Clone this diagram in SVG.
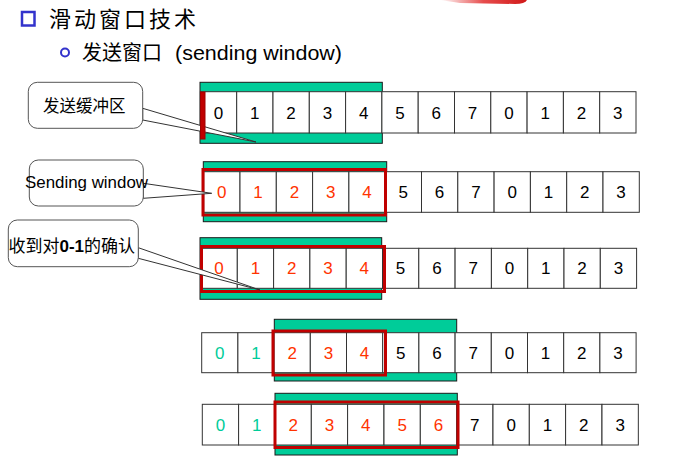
<svg xmlns="http://www.w3.org/2000/svg" width="688" height="474" viewBox="0 0 688 474">
<defs>
<style>
.cell{fill:#fff;stroke:#333;stroke-width:1}
.grn{fill:#00CC99;stroke:#1a1a1a;stroke-width:1}
.win{fill:none;stroke:#C00000;stroke-width:3}
.d{font-family:"Liberation Sans","DejaVu Sans",sans-serif;font-size:17px;text-anchor:middle}
.k{fill:#000}.r{fill:#FF3300}.t{fill:#00CC99}
.call{fill:#fff;stroke:#555;stroke-width:1}
.ptr{fill:#fff;stroke:#333;stroke-width:1}
.cj{font-family:"Noto Sans CJK SC",sans-serif;fill:#000}
</style>
<linearGradient id="rg" x1="0" y1="0" x2="1" y2="0">
<stop offset="0" stop-color="#E02020" stop-opacity="0"/>
<stop offset="0.5" stop-color="#E02020" stop-opacity="0.8"/>
<stop offset="1" stop-color="#D01818"/>
</linearGradient>
</defs>
<rect width="688" height="474" fill="#fff"/>
<path d="M440,0 L527,0 Q525,4 515,4 L460,3 Z" fill="url(#rg)"/>
<g id="title">
<rect x="22" y="12" width="12.5" height="13.5" fill="#fff" stroke="#3333CC" stroke-width="2.5"/>
<text x="49" y="27" class="cj" font-size="22" letter-spacing="3">滑动窗口技术</text>
<circle cx="65" cy="52.5" r="4" fill="#fff" stroke="#3333CC" stroke-width="2"/>
<text x="82" y="60" class="cj" font-size="20">发送窗口</text>
<text x="175" y="60" font-family="Liberation Sans,sans-serif" font-size="21" textLength="167" lengthAdjust="spacingAndGlyphs" fill="#000">(sending window)</text>
</g>
<g id="row1">
<rect class="grn" x="200" y="82.3" width="182.3" height="61"/>
<g class="cells">
<rect class="cell" x="200.4" y="91.7" width="36.3" height="41.3"/>
<rect class="cell" x="236.7" y="91.7" width="36.3" height="41.3"/>
<rect class="cell" x="273" y="91.7" width="36.3" height="41.3"/>
<rect class="cell" x="309.3" y="91.7" width="36.3" height="41.3"/>
<rect class="cell" x="345.6" y="91.7" width="36.3" height="41.3"/>
<rect class="cell" x="381.9" y="91.7" width="36.3" height="41.3"/>
<rect class="cell" x="418.2" y="91.7" width="36.3" height="41.3"/>
<rect class="cell" x="454.5" y="91.7" width="36.3" height="41.3"/>
<rect class="cell" x="490.8" y="91.7" width="36.3" height="41.3"/>
<rect class="cell" x="527.1" y="91.7" width="36.3" height="41.3"/>
<rect class="cell" x="563.4" y="91.7" width="36.3" height="41.3"/>
<rect class="cell" x="599.7" y="91.7" width="36.3" height="41.3"/>
</g>
<g class="d k">
<text x="218.5" y="118.5">0</text><text x="254.8" y="118.5">1</text><text x="291.1" y="118.5">2</text><text x="327.4" y="118.5">3</text><text x="363.7" y="118.5">4</text><text x="400" y="118.5">5</text><text x="436.3" y="118.5">6</text><text x="472.6" y="118.5">7</text><text x="508.9" y="118.5">0</text><text x="545.2" y="118.5">1</text><text x="581.5" y="118.5">2</text><text x="617.8" y="118.5">3</text>
</g>
</g>
<g id="row2">
<rect class="grn" x="203.3" y="161.7" width="183.4" height="60"/>
<g>
<rect class="cell" x="203.7" y="171.7" width="36.3" height="40.6"/>
<rect class="cell" x="240" y="171.7" width="36.3" height="40.6"/>
<rect class="cell" x="276.3" y="171.7" width="36.3" height="40.6"/>
<rect class="cell" x="312.6" y="171.7" width="36.3" height="40.6"/>
<rect class="cell" x="348.9" y="171.7" width="36.3" height="40.6"/>
<rect class="cell" x="385.2" y="171.7" width="36.3" height="40.6"/>
<rect class="cell" x="421.5" y="171.7" width="36.3" height="40.6"/>
<rect class="cell" x="457.8" y="171.7" width="36.3" height="40.6"/>
<rect class="cell" x="494.1" y="171.7" width="36.3" height="40.6"/>
<rect class="cell" x="530.4" y="171.7" width="36.3" height="40.6"/>
<rect class="cell" x="566.7" y="171.7" width="36.3" height="40.6"/>
<rect class="cell" x="603" y="171.7" width="36.3" height="40.6"/>
</g>
<g class="d r">
<text x="221.8" y="198">0</text><text x="258.1" y="198">1</text><text x="294.4" y="198">2</text><text x="330.7" y="198">3</text><text x="367" y="198">4</text>
</g>
<g class="d k">
<text x="403.3" y="198">5</text><text x="439.6" y="198">6</text><text x="475.9" y="198">7</text><text x="512.2" y="198">0</text><text x="548.5" y="198">1</text><text x="584.8" y="198">2</text><text x="621.1" y="198">3</text>
</g>
<rect class="win" x="203" y="169.5" width="182.5" height="45.5"/>
</g>
<g id="row3">
<rect class="grn" x="200" y="237.7" width="181.7" height="61.6"/>
<g>
<rect class="cell" x="201" y="248.3" width="36.3" height="40"/>
<rect class="cell" x="237.3" y="248.3" width="36.3" height="40"/>
<rect class="cell" x="273.6" y="248.3" width="36.3" height="40"/>
<rect class="cell" x="309.9" y="248.3" width="36.3" height="40"/>
<rect class="cell" x="346.2" y="248.3" width="36.3" height="40"/>
<rect class="cell" x="382.5" y="248.3" width="36.3" height="40"/>
<rect class="cell" x="418.8" y="248.3" width="36.3" height="40"/>
<rect class="cell" x="455.1" y="248.3" width="36.3" height="40"/>
<rect class="cell" x="491.4" y="248.3" width="36.3" height="40"/>
<rect class="cell" x="527.7" y="248.3" width="36.3" height="40"/>
<rect class="cell" x="564" y="248.3" width="36.3" height="40"/>
<rect class="cell" x="600.3" y="248.3" width="36.3" height="40"/>
</g>
<g class="d r">
<text x="219.1" y="274">0</text><text x="255.4" y="274">1</text><text x="291.7" y="274">2</text><text x="328" y="274">3</text><text x="364.3" y="274">4</text>
</g>
<g class="d k">
<text x="400.6" y="274">5</text><text x="436.9" y="274">6</text><text x="473.2" y="274">7</text><text x="509.5" y="274">0</text><text x="545.8" y="274">1</text><text x="582.1" y="274">2</text><text x="618.4" y="274">3</text>
</g>
<rect class="win" x="201.5" y="246.5" width="183" height="45"/>
</g>
<g id="row4">
<rect class="grn" x="274.3" y="319.3" width="182.4" height="61.7"/>
<g>
<rect class="cell" x="201.7" y="332.7" width="36.2" height="40"/>
<rect class="cell" x="237.9" y="332.7" width="36.2" height="40"/>
<rect class="cell" x="274.1" y="332.7" width="36.2" height="40"/>
<rect class="cell" x="310.3" y="332.7" width="36.2" height="40"/>
<rect class="cell" x="346.5" y="332.7" width="36.2" height="40"/>
<rect class="cell" x="382.7" y="332.7" width="36.2" height="40"/>
<rect class="cell" x="418.9" y="332.7" width="36.2" height="40"/>
<rect class="cell" x="455.1" y="332.7" width="36.2" height="40"/>
<rect class="cell" x="491.3" y="332.7" width="36.2" height="40"/>
<rect class="cell" x="527.5" y="332.7" width="36.2" height="40"/>
<rect class="cell" x="563.7" y="332.7" width="36.2" height="40"/>
<rect class="cell" x="599.9" y="332.7" width="36.2" height="40"/>
</g>
<g class="d t"><text x="219.8" y="358.5">0</text><text x="256" y="358.5">1</text></g>
<g class="d r"><text x="292.2" y="358.5">2</text><text x="328.4" y="358.5">3</text><text x="364.6" y="358.5">4</text></g>
<g class="d k">
<text x="400.8" y="358.5">5</text><text x="437" y="358.5">6</text><text x="473.2" y="358.5">7</text><text x="509.4" y="358.5">0</text><text x="545.6" y="358.5">1</text><text x="581.8" y="358.5">2</text><text x="618" y="358.5">3</text>
</g>
<rect class="win" x="273" y="331" width="112.5" height="44"/>
</g>
<g id="row5">
<rect class="grn" x="275" y="393.3" width="182.3" height="61.7"/>
<g>
<rect class="cell" x="202.3" y="404.3" width="36.33" height="40.7"/>
<rect class="cell" x="238.6" y="404.3" width="36.33" height="40.7"/>
<rect class="cell" x="275" y="404.3" width="36.33" height="40.7"/>
<rect class="cell" x="311.3" y="404.3" width="36.33" height="40.7"/>
<rect class="cell" x="347.6" y="404.3" width="36.33" height="40.7"/>
<rect class="cell" x="384" y="404.3" width="36.33" height="40.7"/>
<rect class="cell" x="420.3" y="404.3" width="36.33" height="40.7"/>
<rect class="cell" x="456.6" y="404.3" width="36.33" height="40.7"/>
<rect class="cell" x="493" y="404.3" width="36.33" height="40.7"/>
<rect class="cell" x="529.3" y="404.3" width="36.33" height="40.7"/>
<rect class="cell" x="565.6" y="404.3" width="36.33" height="40.7"/>
<rect class="cell" x="602" y="404.3" width="36.33" height="40.7"/>
</g>
<g class="d t"><text x="220.5" y="430.5">0</text><text x="256.8" y="430.5">1</text></g>
<g class="d r"><text x="293.2" y="430.5">2</text><text x="329.5" y="430.5">3</text><text x="365.8" y="430.5">4</text><text x="402.2" y="430.5">5</text><text x="438.5" y="430.5">6</text></g>
<g class="d k">
<text x="474.8" y="430.5">7</text><text x="511.2" y="430.5">0</text><text x="547.5" y="430.5">1</text><text x="583.8" y="430.5">2</text><text x="620.2" y="430.5">3</text>
</g>
<rect class="win" x="275" y="402" width="183" height="45.5"/>
</g>
<g id="connectors">
<path class="ptr" d="M142.7,108.3 L256,142 L142.7,120 Z"/>
<path class="ptr" d="M143.3,183.3 L211.7,193.3 L143.3,198.3 Z"/>
<path class="ptr" d="M138.3,247.7 L260,290 L138.3,258.3 Z"/>
</g>
<g id="callout-buffer">
<rect class="call" x="28.3" y="82.3" width="114.4" height="46" rx="9"/>
<text x="43" y="112" class="cj" font-size="16.5">发送缓冲区</text>
</g>
<rect id="buffer-mark" x="200.5" y="92" width="4.5" height="47" fill="#C00000" stroke="#A00000" stroke-width="1"/>
<g id="callout-window">
<rect class="call" x="29.3" y="160" width="114" height="46" rx="9"/>
<text x="25" y="188" font-family="Liberation Sans,sans-serif" font-size="17" textLength="123" lengthAdjust="spacingAndGlyphs" fill="#000">Sending window</text>
</g>
<g id="callout-ack">
<rect class="call" x="8.3" y="220" width="130" height="46.7" rx="9"/>
<text x="8.5" y="252" class="cj" font-size="17">收到对<tspan font-family="Liberation Sans,sans-serif" font-weight="bold">0-1</tspan>的确认</text>
</g>
</svg>
